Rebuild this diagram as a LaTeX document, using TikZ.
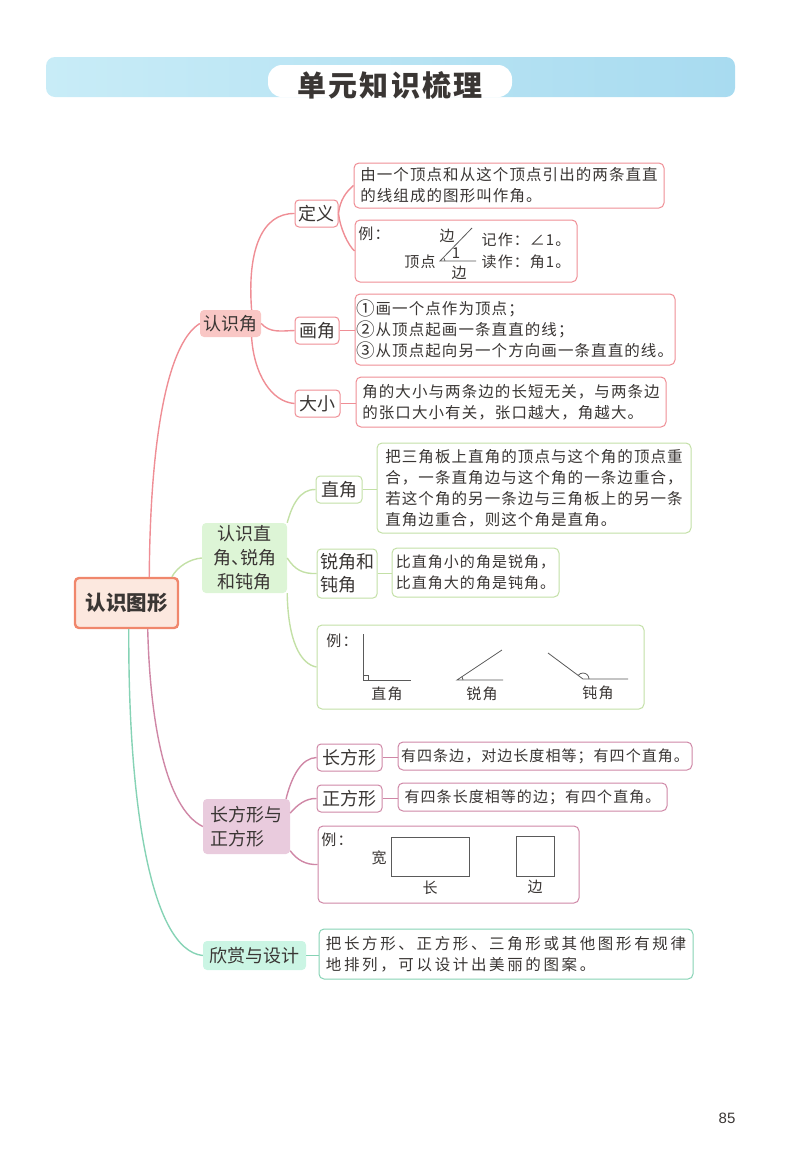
\documentclass[tikz,border=0pt]{standalone}
\usepackage{fontspec}
\usepackage{graphicx}
\setmainfont{Noto Sans CJK SC}
\newfontfamily\bodyfont[LetterSpace=7]{Noto Sans CJK SC}
\newfontfamily\widefont[LetterSpace=17]{Noto Sans CJK SC}
\newfontfamily\pagefont{Liberation Sans}
\usetikzlibrary{calc}

\newcommand{\stepnum}[1]{\raisebox{-1pt}{\scalebox{1.2}{#1}}}

\definecolor{inkc}{HTML}{3A3634}
\definecolor{barl}{HTML}{C8ECF7}
\definecolor{barr}{HTML}{A8DBF0}
\definecolor{rootc}{HTML}{F0876C}
\definecolor{rootf}{HTML}{FCE8DF}
\definecolor{anglec}{HTML}{EF8E95}
\definecolor{anglef}{HTML}{F9C7C5}
\definecolor{kindc}{HTML}{C3E0A6}
\definecolor{kindf}{HTML}{DDF5D6}
\definecolor{rectc}{HTML}{CF87A6}
\definecolor{rectf}{HTML}{E9CBDD}
\definecolor{artc}{HTML}{86D3B5}
\definecolor{artf}{HTML}{CBF5E4}
\definecolor{figc}{HTML}{5A5A5A}

\tikzset{
    every node/.style={text=inkc, inner sep=0, align=center},
    topic/.style={rounded corners=4, font=\fontsize{18}{24}\selectfont},
    leaf/.style={draw=#1, fill=white, rounded corners=4, line width=1, font=\fontsize{18}{22}\selectfont},
    note/.style={draw=#1, fill=white, rounded corners=5, line width=1, align=left, font=\bodyfont\fontsize{15.5}{21}\selectfont},
    small/.style={font=\bodyfont\fontsize{15}{21}\selectfont},
    link/.style={draw=#1, line width=1.4},
    figline/.style={draw=figc, line width=0.8}
}

\begin{document}
\begin{tikzpicture}[x=1pt,y=1pt]
    \useasboundingbox (0,0) rectangle (800,-1165);

    % title bar
    \shade[left color=barl, right color=barr, rounded corners=9] (46,-57) rectangle (735,-97);
    \fill[white, rounded corners=14] (268,-97) -- (268,-65) -- (512,-65) -- (512,-97) -- cycle;
    \node[font=\bodyfont\bfseries\fontsize{29}{30}\selectfont, text=inkc] (title) at (390,-85) {单元知识梳理};

    % main topics
    \node[draw=rootc, fill=rootf, line width=2.4, rounded corners=4, minimum width=103, minimum height=50,
        font=\bfseries\fontsize{20.5}{24}\selectfont] (root) at (126.5,-603) {认识图形};
    \node[topic, fill=anglef, minimum width=61, minimum height=27] (knowangle) at (230.5,-323.5) {认识角};
    \node[topic, fill=kindf, minimum width=85, minimum height=70] (kinds) at (244.5,-558) {认识直\\角、\kern-9pt锐角\\和钝角};
    \node[topic, fill=rectf, minimum width=87, minimum height=55, align=left] (rects) at (246.5,-826.5) {长方形与\\正方形};
    \node[topic, fill=artf, minimum width=103, minimum height=29] (design) at (254.5,-955.5) {欣赏与设计};

    % first branch
    \node[leaf=anglec, minimum width=43, minimum height=27] (define) at (316.5,-213.5) {定义};
    \node[leaf=anglec, minimum width=44, minimum height=27] (paint) at (317,-330.5) {画角};
    \node[leaf=anglec, minimum width=45, minimum height=27] (size) at (317.5,-403.5) {大小};
    \node[note=anglec, minimum width=310, minimum height=45] (definebox) at (509,-185.5)
        {由一个顶点和从这个顶点引出的两条直直\\的线组成的图形叫作角。};
    \node[note=anglec, minimum width=222, minimum height=62] (anglebox) at (466,-251) {};
    \node[note=anglec, minimum width=320, minimum height=71] (paintbox) at (515,-329.5)
        {\stepnum{①}画一个点作为顶点；\\\stepnum{②}从顶点起画一条直直的线；\\\stepnum{③}从顶点起向另一个方向画一条直直的线。};
    \node[note=anglec, minimum width=310, minimum height=50] (sizebox) at (511,-402)
        {角的大小与两条边的长短无关，与两条边\\的张口大小有关，张口越大，角越大。};

    % second branch
    \node[leaf=kindc, minimum width=46, minimum height=27] (right) at (339,-489.5) {直角};
    \node[leaf=kindc, minimum width=60, minimum height=49, align=left, font=\fontsize{18}{23}\selectfont] (acute) at (347,-573.5) {锐角和\\钝角};
    \node[note=kindc, minimum width=314, minimum height=90] (rightbox) at (534,-488)
        {把三角板上直角的顶点与这个角的顶点重\\合，一条直角边与这个角的一条边重合，\\若这个角的另一条边与三角板上的另一条\\直角边重合，则这个角是直角。};
    \node[note=kindc, small, minimum width=167, minimum height=49] (acutebox) at (475.5,-572.5)
        {比直角小的角是锐角，\\比直角大的角是钝角。};
    \node[note=kindc, minimum width=327, minimum height=84] (kindbox) at (480.5,-667) {};

    % third branch
    \node[leaf=rectc, minimum width=65, minimum height=27] (long) at (349.5,-757.5) {长方形};
    \node[leaf=rectc, minimum width=65, minimum height=27] (square) at (349.5,-798.5) {正方形};
    \node[note=rectc, small, minimum width=294, minimum height=28] (longbox) at (545,-756)
        {有四条边，对边长度相等；有四个直角。};
    \node[note=rectc, small, minimum width=269, minimum height=28] (squarebox) at (532.5,-797)
        {有四条长度相等的边；有四个直角。};
    \node[note=rectc, minimum width=261, minimum height=77] (rectbox) at (448.5,-864.5) {};

    % fourth branch
    \node[note=artc, font=\widefont\fontsize{15.5}{21}\selectfont, minimum width=374, minimum height=50] (designbox) at (506,-954)
        {把长方形、正方形、三角形或其他图形有规律\\地排列，可以设计出美丽的图案。};

    % curved links
    \draw[link=anglec] (root.49) .. controls (150,-450) and (165,-345) .. (knowangle.west);
    \draw[link=kindc] (root.30) .. controls (178,-566) and (190,-559) .. (kinds.west);
    \draw[link=rectc] (root.309) .. controls (150,-720) and (165,-808) .. (rects.west);
    \draw[link=artc] (root.275) .. controls (128,-800) and (150,-950) .. (design.west);

    \draw[link=anglec] (knowangle.33) .. controls (247,-250) and (262,-213) .. (define.west);
    \draw[link=anglec] (knowangle.east) .. controls (270,-333) and (280,-331) .. (paint.west);
    \draw[link=anglec] (knowangle.327) .. controls (254,-375) and (272,-402) .. (size.west);
    \draw[link=anglec] (define.east) .. controls (340,-200) and (346,-192) .. (definebox.west);
    \draw[link=anglec] (define.east) .. controls (340,-228) and (348,-245) .. (anglebox.west);

    \draw[link=kindc] (kinds.north east) .. controls (292,-505) and (300,-489) .. (right.west);
    \draw[link=kindc] (kinds.east) .. controls (295,-570) and (303,-574) .. (acute.west);
    \draw[link=kindc] (kinds.south east) .. controls (288,-640) and (300,-664) .. (kindbox.west);

    \draw[link=rectc] (rects.35) .. controls (292,-775) and (302,-758) .. (long.west);
    \draw[link=rectc] (rects.17) .. controls (297,-805) and (306,-798) .. (square.west);
    \draw[link=rectc] (rects.331) .. controls (297,-860) and (306,-865) .. (rectbox.west);

    % straight links
    \foreach \a/\b/\co in {
        paint/paintbox/anglec,
        size/sizebox/anglec,
        right/rightbox/kindc,
        acute/acutebox/kindc,
        long/longbox/rectc,
        square/squarebox/rectc,
        design/designbox/artc}{

        \draw[link=\co] (\a.east) -- (\a.east -| \b.west);
    }

    % angle with its labels
    \coordinate (o1) at (440,-261);
    \draw[figline] (476,-261) -- (o1) -- (472,-228);
    \draw[figline] (445,-261) arc (0:40:5);
    \foreach \name/\x/\y/\txt in {
        ex1/374/-234/例：,
        side1/447/-236/边,
        one/456/-253/1,
        top/420/-262/顶点,
        side2/459/-273/边,
        note1/526/-240/记作：∠1。,
        note2/526/-262/读作：角1。}{

        \node[small] (\name) at (\x,\y) {\txt};
    }

    % the three kinds of angle
    \draw[figline] (363,-634) -- (363,-680) -- (411,-680);
    \draw[figline] (363,-675) -| (368,-680);
    \draw[figline] (503,-680) -- (457,-680) -- (502,-650);
    \draw[figline] (463,-680) arc (0:34:6);
    \draw[figline] (628,-679) -- (583,-679) -- (548,-653);
    \draw[figline] (589,-679) arc (0:143:6);
    \foreach \name/\x/\y/\txt in {
        ex2/342/-641/例：,
        rightlab/387/-694/直角,
        acutelab/482/-694/锐角,
        obtuselab/598/-693/钝角}{

        \node[small] (\name) at (\x,\y) {\txt};
    }

    % rectangle and square
    \draw[figline] (391,-837) rectangle (469,-876);
    \draw[figline] (516,-836) rectangle (554,-876);
    \foreach \name/\x/\y/\txt in {
        ex3/337/-840/例：,
        widelab/379/-858/宽,
        longlab/430/-888/长,
        sidelab/535/-887/边}{

        \node[small] (\name) at (\x,\y) {\txt};
    }

    % page number
    \node[font=\pagefont\fontsize{15}{15}\selectfont] (page) at (727,-1118) {85};
\end{tikzpicture}
\end{document}
